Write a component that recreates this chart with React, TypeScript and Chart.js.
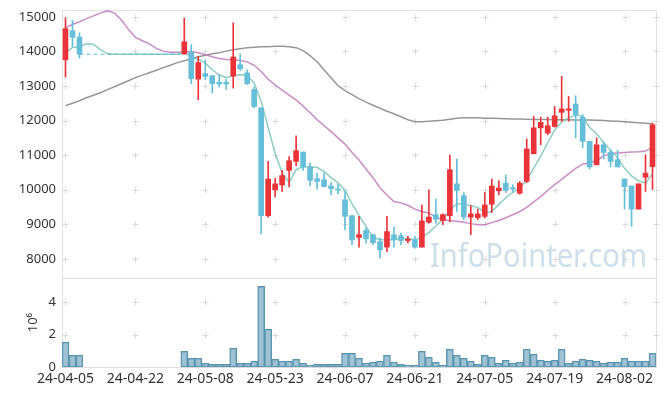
import { useEffect, useRef } from 'react';
import { Chart, registerables } from 'chart.js';

Chart.register(...registerables);

// ---------- data ----------
const dates = [
  '24-04-05', '24-04-08', '24-04-09', '24-04-11', '24-04-12', '24-04-15', '24-04-16', '24-04-17', '24-04-18', '24-04-19',
  '24-04-22', '24-04-23', '24-04-24', '24-04-25', '24-04-26', '24-04-29', '24-04-30', '24-05-02', '24-05-03', '24-05-07',
  '24-05-08', '24-05-09', '24-05-10', '24-05-13', '24-05-14', '24-05-16', '24-05-17', '24-05-20', '24-05-21', '24-05-22',
  '24-05-23', '24-05-24', '24-05-27', '24-05-28', '24-05-29', '24-05-30', '24-05-31', '24-06-03', '24-06-04', '24-06-05',
  '24-06-07', '24-06-10', '24-06-11', '24-06-12', '24-06-13', '24-06-14', '24-06-17', '24-06-18', '24-06-19', '24-06-20',
  '24-06-21', '24-06-24', '24-06-25', '24-06-26', '24-06-27', '24-06-28', '24-07-01', '24-07-02', '24-07-03', '24-07-04',
  '24-07-05', '24-07-08', '24-07-09', '24-07-10', '24-07-11', '24-07-12', '24-07-15', '24-07-16', '24-07-17', '24-07-18',
  '24-07-19', '24-07-22', '24-07-23', '24-07-24', '24-07-25', '24-07-26', '24-07-29', '24-07-30', '24-07-31', '24-08-01',
  '24-08-02', '24-08-05', '24-08-06', '24-08-07', '24-08-08',
];

const xTickLabels = ['24-04-05', '24-04-22', '24-05-08', '24-05-23', '24-06-07', '24-06-21', '24-07-05', '24-07-19', '24-08-02'];

const N = null;
const opens = [
  13760, 14600, 14420, N, N, N, N, N, N, N,
  N, N, N, N, N, N, N, 13930, 13980, 13200,
  13360, 13300, 13110, 13110, 13290, 13620, 13380, 12900, 12370, 9250,
  10000, 10140, 10560, 10820, 11090, 10660, 10320, 10290, 10110, 10020,
  9710, 9250, 8620, 8820, 8700, 8500, 8340, 8700, 8670, 8530,
  8550, 8340, 9060, 9280, 9110, 9250, 10170, 9830, 9210, 9190,
  9230, 9580, 9970, 10190, 10060, 9900, 10240, 11040, 11790, 11640,
  11830, 12240, 12300, 12480, 12100, 11400, 10720, 11300, 11080, 10870,
  10310, 10110, 9440, 10360, 10670,
];
const closes = [
  14660, 14410, 13920, N, N, N, N, N, N, N,
  N, N, N, N, N, N, N, 14280, 13210, 13680,
  13280, 13070, 13060, 13060, 13840, 13500, 13070, 12410, 9250, 10310,
  10170, 10410, 10840, 11130, 10660, 10270, 10240, 10090, 10030, 9990,
  9230, 8550, 8700, 8580, 8470, 8260, 8790, 8550, 8530, 8570,
  8340, 9100, 9210, 9150, 9280, 10580, 9980, 9210, 9300, 9300,
  9560, 10110, 10050, 9980, 10020, 10190, 11180, 11790, 11950, 11850,
  12140, 12340, 12340, 12170, 11400, 10660, 11300, 11080, 10820, 10660,
  10090, 9440, 10170, 10480, 11880,
];
const highs = [
  14970, 14900, 14540, N, N, N, N, N, N, N,
  N, N, N, N, N, N, N, 14970, 14200, 13860,
  13760, 13300, 13330, 13200, 14830, 13930, 13470, 12970, 12370, 10820,
  10340, 10560, 10960, 11560, 11090, 10770, 10480, 10480, 10210, 10170,
  9950, 9250, 9230, 8890, 8720, 8600, 9230, 8920, 8750, 8650,
  8650, 9560, 10000, 9730, 9300, 11000, 10890, 9920, 9540, 9440,
  9920, 10310, 10260, 10430, 10150, 10240, 11470, 12120, 12100, 12100,
  12410, 13280, 12700, 12720, 12170, 11400, 11500, 11400, 11160, 11140,
  10310, 10110, 10170, 11010, 11930,
];
const lows = [
  13260, 14150, 13810, N, N, N, N, N, N, N,
  N, N, N, N, N, N, N, 13920, 13070, 12600,
  13180, 12800, 12970, 12900, 12940, 13450, 13040, 12370, 8720, 9210,
  9790, 9950, 10080, 10690, 10560, 10110, 10020, 10080, 9850, 9880,
  8840, 8410, 8340, 8460, 8410, 8020, 8210, 8340, 8410, 8460,
  8310, 8340, 9030, 9030, 8990, 9080, 9370, 9130, 8700, 9130,
  9180, 9340, 9850, 9920, 9950, 9870, 10210, 11040, 11300, 11590,
  11810, 11980, 11980, 11500, 11210, 10600, 10720, 10890, 10660, 10660,
  9440, 8940, 9440, 9950, 10000,
];
const volumes = [
  1540000, 740000, 740000, 0, 0, 0, 0, 0, 0, 0,
  0, 0, 0, 0, 0, 0, 0, 980000, 550000, 550000,
  250000, 180000, 180000, 180000, 1170000, 250000, 250000, 370000, 4980000, 2340000,
  490000, 370000, 370000, 490000, 250000, 120000, 180000, 180000, 180000, 180000,
  860000, 860000, 550000, 250000, 310000, 370000, 740000, 310000, 180000, 120000,
  120000, 980000, 620000, 310000, 120000, 1110000, 740000, 550000, 370000, 180000,
  740000, 620000, 250000, 430000, 250000, 310000, 1110000, 800000, 430000, 370000,
  430000, 1110000, 250000, 370000, 490000, 430000, 370000, 250000, 310000, 310000,
  550000, 370000, 370000, 370000, 860000,
];
const ma5 = [
  13957, 14120, 14120, 14227, 14207, 14053, 13940, 13920, 13920, 13920,
  13920, 13920, 13920, 13920, 13920, 13920, 13920, 13990, 13830, 13770,
  13670, 13470, 13320, 13250, 13290, 13330, 13300, 13090, 12550, 11800,
  11050, 10490, 10210, 10580, 10670, 10660, 10650, 10530, 10350, 10200,
  9980, 9600, 9260, 8940, 8610, 8560, 8550, 8560, 8580, 8600,
  8550, 8630, 8760, 8950, 9150, 9400, 9600, 9580, 9540, 9490,
  9345, 9370, 9570, 9770, 9920, 10060, 10280, 10620, 10970, 11360,
  11720, 11960, 12080, 12160, 12130, 11800, 11620, 11370, 11140, 10930,
  10620, 10400, 10260, 10190, 10460,
];
const ma20 = [
  14690, 14780, 14860, 14950, 15030, 15110, 15180, 15110, 14910, 14640,
  14410, 14310, 14220, 14090, 14010, 13980, 13975, 13990, 14000, 13965,
  13910, 13850, 13800, 13765, 13760, 13740, 13700, 13600, 13420, 13200,
  13030, 12880, 12740, 12600, 12420, 12230, 12030, 11860, 11680, 11500,
  11320, 11080, 10860, 10600, 10350, 10060, 9850, 9660, 9620, 9550,
  9440, 9370, 9330, 9200, 9130, 9110, 9090, 9060, 9020, 8990,
  8985, 9050, 9110, 9190, 9275, 9370, 9490, 9650, 9800, 9980,
  10150, 10300, 10460, 10620, 10740, 10780, 10840, 10980, 11040, 11065,
  11080, 11090, 11100, 11120, 11235,
];
const ma60 = [
  12431, 12504, 12576, 12663, 12735, 12808, 12895, 12981, 13068, 13155,
  13242, 13315, 13387, 13459, 13532, 13604, 13677, 13734, 13792, 13850,
  13894, 13937, 13966, 14010, 14053, 14082, 14111, 14125, 14140, 14140,
  14154, 14154, 14140, 14111, 14024, 13879, 13705, 13474, 13242, 13010,
  12866, 12750, 12634, 12533, 12446, 12359, 12272, 12200, 12113, 12026,
  11968, 11968, 11982, 11997, 12011, 12040, 12069, 12084, 12084, 12084,
  12069, 12065, 12060, 12055, 12050, 12045, 12040, 12035, 12030, 12030,
  12025, 12025, 12025, 12020, 12020, 12015, 12010, 12000, 11990, 11980,
  11970, 11955, 11940, 11925, 11910,
];
// last close carried through the trading halt
const haltLine = [
  N, N, 13920, 13920, 13920, 13920, 13920, 13920, 13920, 13920,
  13920, 13920, 13920, 13920, 13920, 13920, 13920, 13920, N, N,
];

const priceTicks = [8000, 9000, 10000, 11000, 12000, 13000, 14000, 15000];
const volumeTicks = [0, 2000000, 4000000];
const priceRange = [7450, 15200];
const volumeRange = [0, 5500000];

// ---------- styles ----------
const RED = '#ea343a';
const BLUE = '#66bed8';
const FONT = 'Noto Sans';
const TEXT = '#333333';
const FRAME = '#e2e2e2';
const CROSS = '#dadada';

const candleColor = (ctx: any) => {
  const i = ctx.dataIndex;
  const o = opens[i];
  const c = closes[i];
  if (o == null || c == null) return BLUE;
  return c >= o ? RED : BLUE;
};

const fixWidth = (s: any) => {
  s.width = 62;
  s.paddingTop = 0;
  s.paddingBottom = 0;
};

const decorPlugin = {
  id: 'decor',
  beforeDatasetsDraw(chart: any) {
    const { ctx, chartArea, scales } = chart;
    const xs = scales.x;
    const yp = scales.y;
    const yv = scales.yVol;
    ctx.save();
    // watermark
    ctx.font = `32px "${FONT}"`;
    ctx.fillStyle = 'rgba(176,204,219,0.62)';
    ctx.textAlign = 'right';
    ctx.textBaseline = 'alphabetic';
    ctx.fillText('InfoPointer.com', chartArea.right - 9, yp.bottom - 11, 217);

    // frame lines
    ctx.strokeStyle = FRAME;
    ctx.lineWidth = 1;
    ctx.beginPath();
    const top = Math.round(yp.top) + 0.5;
    const sep = Math.round(yp.bottom) + 0.5;
    const right = Math.round(chartArea.right) + 0.5;
    ctx.moveTo(chartArea.left, top);
    ctx.lineTo(right, top);
    ctx.moveTo(chartArea.left, sep);
    ctx.lineTo(right, sep);
    ctx.moveTo(right, top);
    ctx.lineTo(right, yv.bottom);
    ctx.stroke();

    // crosses at grid intersections
    const px = xTickLabels.map((l) => xs.getPixelForValue(dates.indexOf(l)));
    px.push(chartArea.right);
    const py = [
      ...priceTicks.map((v) => yp.getPixelForValue(v)),
      ...volumeTicks.filter((v) => v > 0).map((v) => yv.getPixelForValue(v)),
    ];
    ctx.strokeStyle = CROSS;
    ctx.beginPath();
    for (const x of px) {
      for (const y of py) {
        const cx = Math.round(x) + 0.5;
        const cy = Math.round(y) + 0.5;
        ctx.moveTo(cx - 3, cy);
        ctx.lineTo(cx + 3, cy);
        ctx.moveTo(cx, cy - 3);
        ctx.lineTo(cx, cy + 3);
      }
    }
    ctx.stroke();
    ctx.restore();
  },
};

export default function App() {
  const ref = useRef<HTMLCanvasElement | null>(null);

  useEffect(() => {
    if (!ref.current) return;
    Chart.defaults.font.family = FONT;
    const chart = new Chart(ref.current, {
      type: 'bar',
      data: {
        labels: dates,
        datasets: [
          {
            type: 'bar',
            label: 'body',
            data: opens.map((o, i) => (o == null || closes[i] == null ? null : [o, closes[i]])) as any,
            yAxisID: 'y',
            backgroundColor: candleColor,
            borderWidth: 0,
            barThickness: 5,
            minBarLength: 1,
            grouped: false,
          } as any,
          {
            type: 'bar',
            label: 'wick',
            data: lows.map((l, i) => (l == null || highs[i] == null ? null : [l, highs[i]])) as any,
            yAxisID: 'y',
            backgroundColor: candleColor,
            borderWidth: 0,
            barThickness: 1,
            grouped: false,
          } as any,
          {
            type: 'line',
            label: 'halt',
            data: dates.map((_, i) => (i < haltLine.length ? haltLine[i] : null)),
            yAxisID: 'y',
            borderColor: '#5bbfd6',
            borderWidth: 1,
            borderDash: [4, 3],
            pointRadius: 0,
            fill: false,
          } as any,
          {
            type: 'line',
            label: 'MA5',
            data: ma5,
            yAxisID: 'y',
            borderColor: 'rgba(122,196,184,0.85)',
            borderWidth: 1.5,
            pointRadius: 0,
            fill: false,
          } as any,
          {
            type: 'line',
            label: 'MA20',
            data: ma20,
            yAxisID: 'y',
            borderColor: 'rgba(196,128,192,0.9)',
            borderWidth: 1.5,
            pointRadius: 0,
            fill: false,
          } as any,
          {
            type: 'line',
            label: 'MA60',
            data: ma60,
            yAxisID: 'y',
            borderColor: 'rgba(140,140,140,0.9)',
            borderWidth: 1.5,
            pointRadius: 0,
            fill: false,
          } as any,
          {
            type: 'bar',
            label: 'volume',
            data: volumes,
            yAxisID: 'yVol',
            backgroundColor: 'rgba(122,170,195,0.72)',
            borderColor: '#5a93ad',
            borderWidth: 1,
            borderSkipped: false,
            barPercentage: 1,
            categoryPercentage: 1,
            grouped: false,
          } as any,
        ],
      },
      options: {
        responsive: false,
        animation: false,
        events: [],
        layout: { padding: { top: 10, right: 9, bottom: 6, left: 0 } },
        plugins: {
          legend: { display: false },
          tooltip: { enabled: false },
        },
        scales: {
          x: {
            type: 'category',
            offset: true,
            grid: { display: false, drawTicks: false },
            border: { display: true, color: FRAME },
            ticks: {
              autoSkip: false,
              maxRotation: 0,
              minRotation: 0,
              padding: 3,
              color: TEXT,
              font: { family: FONT, size: 14 },
              callback: (_v: any, i: number) => (xTickLabels.includes(dates[i]) ? dates[i] : ''),
            },
          },
          yVol: {
            type: 'linear',
            position: 'left',
            stack: 'panels',
            stackWeight: 1,
            min: volumeRange[0],
            max: volumeRange[1],
            afterBuildTicks: (s: any) => {
              s.ticks = volumeTicks.map((v) => ({ value: v }));
            },
            afterFit: fixWidth,
            grid: { display: false, drawTicks: false },
            border: { display: true, color: FRAME },
            title: {
              display: true,
              text: '10⁶',
              color: TEXT,
              font: { family: FONT, size: 13 },
              padding: { top: 25, bottom: 0 },
            },
            ticks: {
              padding: 6,
              color: TEXT,
              font: { family: FONT, size: 13 },
              callback: (v: any) => String(Number(v) / 1000000),
            },
          },
          y: {
            type: 'linear',
            position: 'left',
            stack: 'panels',
            stackWeight: 3,
            min: priceRange[0],
            max: priceRange[1],
            afterBuildTicks: (s: any) => {
              s.ticks = priceTicks.map((v) => ({ value: v }));
            },
            afterFit: fixWidth,
            grid: { display: false, drawTicks: false },
            border: { display: true, color: FRAME },
            ticks: {
              padding: 6,
              color: TEXT,
              font: { family: FONT, size: 13 },
              callback: (v: any) => String(v),
            },
          },
        },
      } as any,
      plugins: [decorPlugin],
    });
    return () => chart.destroy();
  }, []);

  return (
    <div style={{ position: 'fixed', left: 0, top: 0, width: 665, height: 396, background: '#fff' }}>
      <canvas ref={ref} width={665} height={396} style={{ display: 'block', width: 665, height: 396 }} />
    </div>
  );
}
